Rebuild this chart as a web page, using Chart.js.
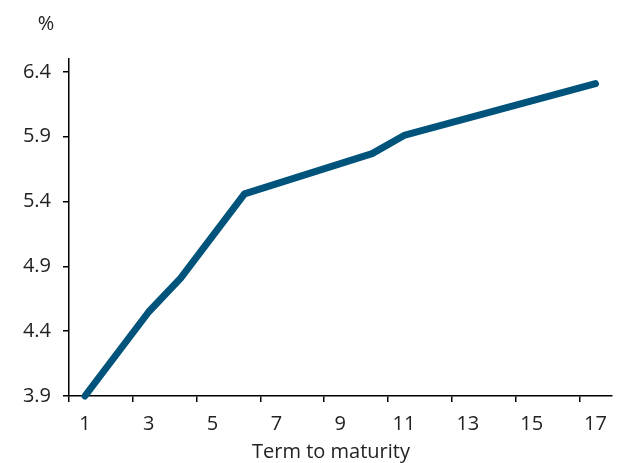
<!DOCTYPE html>
<html>
<head>
<meta charset="utf-8">
<script src="https://cdn.jsdelivr.net/npm/chart.js@4"></script>
<style>
html,body{margin:0;padding:0;background:#fff;}
#wrap{width:617px;height:463px;}
</style>
</head>
<body>
<div id="wrap"><canvas id="c" width="617" height="463"></canvas></div>
<script>
// Term to maturity (categories)
const categories = ['1','2','3','4','5','6','7','8','9','10','11','12','13','14','15','16','17'];
// Yield curve values (%); null where the line runs straight between visible kinks
const yieldValues = [3.9, null, 4.55, 4.81, null, 5.46, null, null, null, 5.77, 5.91, null, null, null, null, null, 6.31];
const yTickValues = [3.9, 4.4, 4.9, 5.4, 5.9, 6.4];
const unitLabel = '%';
const xTitle = 'Term to maturity';

const FONT = "'Open Sans', 'Noto Sans', sans-serif";
const TEXT = '#222';

const textPlugin = {
  id: 'extraText',
  afterDraw(chart) {
    const c = chart.ctx;
    c.save();
    c.font = "20px " + FONT;
    c.fillStyle = TEXT;
    c.textAlign = 'center';
    c.textBaseline = 'middle';
    c.fillText(unitLabel, 46, 24);
    c.fillText(xTitle, 331, 452);
    c.restore();
  }
};

new Chart(document.getElementById('c'), {
  type: 'line',
  data: {
    labels: categories,
    datasets: [{
      data: yieldValues,
      borderColor: '#00537a',
      borderWidth: 7,
      borderCapStyle: 'round',
      borderJoinStyle: 'round',
      pointRadius: 0,
      spanGaps: true,
      tension: 0,
      clip: false
    }]
  },
  options: {
    responsive: false,
    animation: false,
    devicePixelRatio: 1,
    layout: { padding: { top: 59, right: 4, left: 0, bottom: 0 } },
    plugins: { legend: { display: false }, tooltip: { enabled: false } },
    scales: {
      x: {
        offset: true,
        grid: {
          offset: true,
          drawOnChartArea: false,
          drawTicks: true,
          tickLength: 6,
          tickColor: (ctx) => (ctx.index % 2 === 0 && ctx.index < 17) ? '#000' : 'rgba(0,0,0,0)',
          lineWidth: 1.5
        },
        border: { display: true, color: '#000', width: 1.5 },
        ticks: {
          autoSkip: false,
          maxRotation: 0,
          padding: 10,
          color: TEXT,
          font: { family: FONT, size: 20 },
          callback: function(v, i) { return i % 2 === 0 ? categories[i] : ''; }
        },
        afterFit: (s) => { s.height = 67; }
      },
      y: {
        min: 3.9,
        max: 6.5,
        afterBuildTicks: (s) => { s.ticks = yTickValues.map(v => ({ value: v })); },
        afterFit: (s) => { s.width = 69; },
        grid: {
          drawOnChartArea: false,
          drawTicks: true,
          tickLength: 6,
          tickColor: '#000',
          lineWidth: 1.5
        },
        border: { display: true, color: '#000', width: 1.5 },
        ticks: {
          padding: 12,
          color: TEXT,
          font: { family: FONT, size: 20 },
          callback: (v) => Number(v).toFixed(1)
        }
      }
    }
  },
  plugins: [textPlugin]
});
</script>
</body>
</html>
